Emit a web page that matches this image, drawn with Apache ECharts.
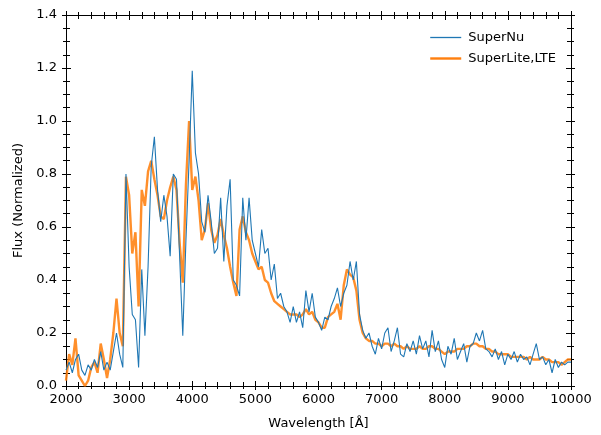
<!DOCTYPE html>
<html>
<head>
<meta charset="utf-8">
<script src="https://cdn.jsdelivr.net/npm/echarts@6/dist/echarts.min.js"></script>
<style>html,body{margin:0;padding:0;background:#fff}#c{width:601px;height:435px}</style>
</head>
<body>
<div id="c"></div>
<script>
const wavelengths = [2000,2050,2100,2150,2200,2250,2300,2350,2400,2450,2500,2550,2600,2650,2700,2750,2800,2850,2900,2950,
3000,3050,3100,3150,3200,3250,3300,3350,3400,3450,3500,3550,3600,3650,3700,3750,3800,3850,3900,3950,
4000,4050,4100,4150,4200,4250,4300,4350,4400,4450,4500,4550,4600,4650,4700,4750,4800,4850,4900,4950,
5000,5050,5100,5150,5200,5250,5300,5350,5400,5450,5500,5550,5600,5650,5700,5750,5800,5850,5900,5950,
6000,6050,6100,6150,6200,6250,6300,6350,6400,6450,6500,6550,6600,6650,6700,6750,6800,6850,6900,6950,
7000,7050,7100,7150,7200,7250,7300,7350,7400,7450,7500,7550,7600,7650,7700,7750,7800,7850,7900,7950,
8000,8050,8100,8150,8200,8250,8300,8350,8400,8450,8500,8550,8600,8650,8700,8750,8800,8850,8900,8950,
9000,9050,9100,9150,9200,9250,9300,9350,9400,9450,9500,9550,9600,9650,9700,9750,9800,9850,9900,9950,10000];

const superNu = [0.06,0.09,0.05,0.10,0.12,0.06,0.04,0.08,0.06,0.10,0.07,0.13,0.06,0.09,0.06,0.13,0.20,0.12,0.07,0.80,
0.45,0.27,0.25,0.07,0.44,0.19,0.45,0.83,0.94,0.74,0.62,0.72,0.64,0.49,0.80,0.78,0.49,0.19,0.55,0.85,
1.19,0.88,0.80,0.62,0.58,0.72,0.62,0.50,0.52,0.71,0.47,0.68,0.78,0.40,0.38,0.34,0.71,0.55,0.71,0.55,
0.50,0.45,0.59,0.50,0.52,0.40,0.46,0.33,0.35,0.30,0.28,0.24,0.30,0.24,0.28,0.22,0.36,0.28,0.35,0.26,
0.24,0.21,0.26,0.25,0.30,0.33,0.37,0.30,0.35,0.38,0.47,0.40,0.47,0.27,0.21,0.18,0.20,0.15,0.12,0.18,
0.14,0.20,0.22,0.13,0.17,0.22,0.12,0.11,0.16,0.13,0.17,0.12,0.19,0.14,0.17,0.11,0.21,0.13,0.17,0.10,
0.07,0.15,0.12,0.18,0.10,0.13,0.16,0.09,0.15,0.16,0.20,0.17,0.21,0.14,0.13,0.11,0.14,0.10,0.13,0.08,
0.12,0.10,0.13,0.09,0.12,0.10,0.11,0.08,0.12,0.16,0.10,0.11,0.08,0.10,0.05,0.10,0.07,0.09,0.08,0.09,0.09];

const superLite = [0.02,0.12,0.08,0.18,0.04,0.02,0.00,0.02,0.07,0.09,0.05,0.16,0.10,0.03,0.10,0.20,0.33,0.20,0.15,0.79,
0.72,0.50,0.58,0.30,0.74,0.68,0.81,0.85,0.78,0.72,0.64,0.63,0.70,0.75,0.79,0.74,0.54,0.39,0.76,1.00,
0.74,0.79,0.70,0.55,0.59,0.69,0.59,0.54,0.57,0.63,0.57,0.52,0.45,0.39,0.34,0.59,0.64,0.58,0.55,0.50,
0.47,0.44,0.45,0.40,0.39,0.35,0.32,0.31,0.30,0.29,0.28,0.27,0.27,0.27,0.26,0.27,0.29,0.27,0.28,0.25,
0.24,0.22,0.22,0.26,0.27,0.28,0.31,0.25,0.38,0.44,0.42,0.41,0.36,0.25,0.20,0.18,0.17,0.17,0.16,0.16,
0.15,0.16,0.16,0.15,0.16,0.15,0.15,0.14,0.15,0.14,0.14,0.14,0.15,0.14,0.14,0.15,0.15,0.14,0.14,0.13,
0.12,0.13,0.13,0.13,0.14,0.14,0.14,0.15,0.15,0.16,0.16,0.15,0.15,0.14,0.14,0.13,0.13,0.12,0.12,0.12,
0.12,0.11,0.11,0.11,0.11,0.11,0.10,0.11,0.10,0.10,0.10,0.11,0.10,0.10,0.09,0.09,0.09,0.08,0.09,0.10,0.10];

const seriesNames = ['SuperNu', 'SuperLite,LTE'];
const BLUE = '#1f77b4';
const ORANGE = '#ff7f0e';

const FONT = 'DejaVu Sans';
const chart = echarts.init(document.getElementById('c'), null, {renderer: 'canvas'});

function xAx(pos, inside, show) {
  return {
    type: 'value', position: pos, min: 2000, max: 10000, interval: 1000,
    axisLine: {show: show, onZero: false, lineStyle: {color: '#000', width: 1}},
    axisTick: {show: true, inside: inside, length: inside ? 5 : 4, lineStyle: {color: '#000'}},
    minorTick: {show: true, splitNumber: 5, length: inside ? 4 : 3, lineStyle: {color: '#000'}},
    axisLabel: {show: false}, splitLine: {show: false}, minorSplitLine: {show: false}
  };
}
function yAx(pos, inside, show) {
  return {
    type: 'value', position: pos, min: 0, max: 1.4, interval: 0.2,
    axisLine: {show: show, onZero: false, lineStyle: {color: '#000', width: 1}},
    axisTick: {show: true, inside: inside, length: inside ? 5 : 4, lineStyle: {color: '#000'}},
    minorTick: {show: true, splitNumber: 4, length: inside ? 4 : 3, lineStyle: {color: '#000'}},
    axisLabel: {show: false}, splitLine: {show: false}, minorSplitLine: {show: false}
  };
}

const xMain = xAx('bottom', false, true);
xMain.axisLabel = {show: true, fontFamily: FONT, fontSize: 13, color: '#000', margin: 7,
  formatter: v => String(Math.round(v))};
xMain.name = 'Wavelength [Å]';
xMain.nameLocation = 'middle';
xMain.nameGap = 31;
xMain.nameTextStyle = {fontFamily: FONT, fontSize: 13, color: '#000'};

const yMain = yAx('left', false, true);
yMain.axisLabel = {show: true, fontFamily: FONT, fontSize: 13, color: '#000', margin: 9,
  formatter: v => v.toFixed(1)};
yMain.name = 'Flux (Normalized)';
yMain.nameLocation = 'middle';
yMain.nameGap = 41;
yMain.nameTextStyle = {fontFamily: FONT, fontSize: 13, color: '#000'};

const option = {
  animation: false,
  backgroundColor: '#fff',
  grid: {left: 66, right: 30, top: 15, bottom: 49, containLabel: false},
  legend: {
    data: [
      {name: seriesNames[0], icon: 'path://M0,0 L31,0 L31,1.3 L0,1.3 Z', itemStyle: {color: BLUE, borderWidth: 0}},
      {name: seriesNames[1], icon: 'path://M0,0 L31,0 L31,2.4 L0,2.4 Z', itemStyle: {color: ORANGE, borderWidth: 0}}
    ],
    right: 40, top: 26, orient: 'vertical',
    itemWidth: 31, itemHeight: 10, itemGap: 8,
    textStyle: {fontFamily: FONT, fontSize: 13, color: '#000', padding: [0, 0, 0, 2]}
  },
  xAxis: [xMain, xAx('bottom', true, false), xAx('top', false, true), xAx('top', true, false)],
  yAxis: [yMain, yAx('left', true, false), yAx('right', false, true), yAx('right', true, false)],
  series: [
    {
      name: seriesNames[0], type: 'line', xAxisIndex: 0, yAxisIndex: 0,
      showSymbol: false, symbol: 'none', z: 3,
      lineStyle: {color: BLUE, width: 1.1},
      itemStyle: {color: BLUE},
      data: wavelengths.map((w, i) => [w, superNu[i]])
    },
    {
      name: seriesNames[1], type: 'line', xAxisIndex: 0, yAxisIndex: 0,
      showSymbol: false, symbol: 'none', z: 2,
      lineStyle: {color: 'rgba(255,127,14,0.88)', width: 2.4},
      itemStyle: {color: ORANGE},
      data: wavelengths.map((w, i) => [w, superLite[i]])
    }
  ]
};
chart.setOption(option);
</script>
</body>
</html>
